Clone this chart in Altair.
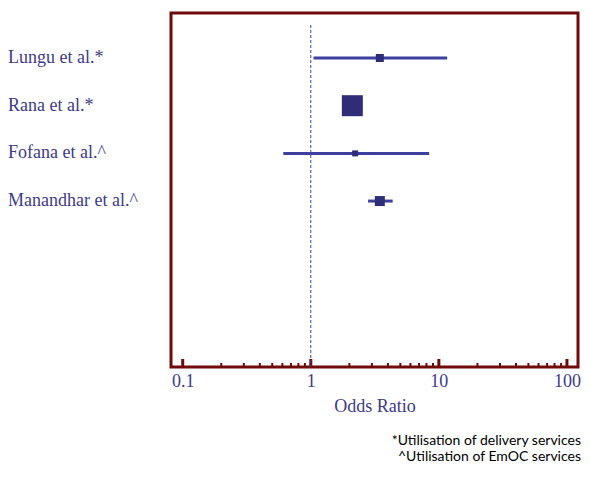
import altair as alt
import pandas as pd

studies = ["Lungu et al.*", "Rana et al.*", "Fofana et al.^", "Manandhar et al.^"]
rows = [1, 2, 3, 4]
odds = [3.46, 2.11, 2.22, 3.46]
lower = [1.05, 1.90, 0.61, 2.80]
upper = [11.6, 2.35, 8.40, 4.36]
weights = [10.0, 68.8, 5.6, 15.6]

major_ticks = [0.1, 1, 10, 100]
minor_ticks = [0.2, 0.3, 0.4, 0.5, 0.6, 0.7, 0.8, 0.9,
               2, 3, 4, 5, 6, 7, 8, 9,
               20, 30, 40, 50, 60, 70, 80, 90]
footnotes = ["*Utilisation of delivery services", "^Utilisation of EmOC services"]

W, H = 407, 354
FRAME = "#6f0b0b"
LINE = "#3e40a0"
BOX = "#2f2d78"
TEXT = "#3c3b8a"
SERIF = "Liberation Serif"

df = pd.DataFrame({"study": studies, "row": rows, "or": odds,
                   "lo": lower, "hi": upper, "w": weights})
maj = pd.DataFrame({"v": major_ticks})
mnr = pd.DataFrame({"v": minor_ticks})
ref = pd.DataFrame({"v": [1]})

xscale = alt.Scale(type="log", domain=[0.081, 122], nice=False)
yscale = alt.Scale(domain=[0.056, 7.48], reverse=True, nice=False, zero=False)

xaxis = alt.Axis(values=major_ticks, format="~g", ticks=False, domain=False,
                 grid=False, tickSize=0, labelFont=SERIF, labelFontSize=18,
                 labelColor=TEXT, labelPadding=5, title="Odds Ratio",
                 titleFont=SERIF, titleFontSize=18, titleFontWeight="normal",
                 titleColor=TEXT, titlePadding=7)

base_x = alt.X("v:Q", scale=xscale, axis=xaxis)

major = alt.Chart(maj).mark_rule(color=FRAME, strokeWidth=3).encode(
    x=base_x, y=alt.value(H), y2=alt.value(H - 8))
minor = alt.Chart(mnr).mark_rule(color=FRAME, strokeWidth=2).encode(
    x=alt.X("v:Q", scale=xscale), y=alt.value(H), y2=alt.value(H - 4))
refline = alt.Chart(ref).mark_rule(color=LINE, strokeWidth=1, strokeDash=[3, 2]).encode(
    x=alt.X("v:Q", scale=xscale), y=alt.value(12), y2=alt.value(H))

ci = alt.Chart(df).mark_rule(color=LINE, strokeWidth=3).encode(
    x=alt.X("lo:Q", scale=xscale), x2="hi:Q",
    y=alt.Y("row:Q", scale=yscale, axis=None))
boxes = alt.Chart(df).mark_point(shape="square", filled=True, color=BOX, opacity=1).encode(
    x=alt.X("or:Q", scale=xscale),
    y=alt.Y("row:Q", scale=yscale),
    size=alt.Size("w:Q", scale=alt.Scale(domain=[0, 100], range=[0, 641]), legend=None))
labels = alt.Chart(df).mark_text(align="left", baseline="middle", font=SERIF,
                                 fontSize=18, color=TEXT).encode(
    x=alt.value(-163), y=alt.Y("row:Q", scale=yscale), text="study:N")

chart = alt.layer(major, minor, refline, ci, boxes, labels).properties(
    width=W, height=H,
    padding={"left": 0, "top": 5, "right": 0, "bottom": 0},
    title=alt.TitleParams(text=footnotes, orient="bottom", anchor="end",
                          font="Lato", fontSize=14, fontWeight="normal",
                          baseline="alphabetic", color="black", offset=30,
                          lineHeight=16, frame="group", dx=3),
).configure_view(stroke=FRAME, strokeWidth=3)

chart.save("out.html", embed_options={"renderer": "svg", "actions": False})
